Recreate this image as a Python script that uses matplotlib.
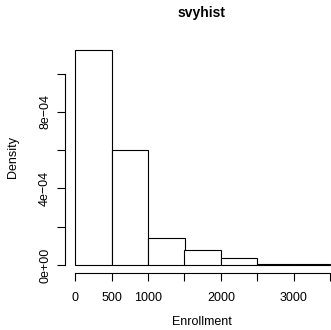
import matplotlib
matplotlib.use("Agg")
import matplotlib.pyplot as plt

# histogram bins (Enrollment) and densities
bin_edges = [0, 500, 1000, 1500, 2000, 2500, 3000, 3500]
densities = [1.122e-3, 6.01e-4, 1.40e-4, 7.7e-5, 3.5e-5, 4e-6, 4e-6]

x_ticks = [0, 500, 1000, 1500, 2000, 2500, 3000, 3500]
x_labels = ["0", "500", "1000", "", "2000", "", "3000", ""]
y_ticks = [0, 2e-4, 4e-4, 6e-4, 8e-4, 1e-3]
y_labels = ["0e+00", "", "4e\u221204", "", "8e\u221204", ""]

plt.rcParams["font.family"] = ["Liberation Sans", "DejaVu Sans"]

W, H = 331, 330
fig = plt.figure(figsize=(W / 100, H / 100), dpi=100)

# pixel mapping: x=0 at 75 px, 0.073 px per unit; y=0 at 265 px, 191300 px per unit
left_px, right_px = 65, 331
top_px, bottom_px = 40, 273
ax = fig.add_axes([left_px / W, 1 - bottom_px / H,
                   (right_px - left_px) / W, (bottom_px - top_px) / H])
ax.set_xlim((left_px - 75) / 0.073, (right_px - 75) / 0.073)
ax.set_ylim((265 - bottom_px) / 191300, (265 - top_px) / 191300)

widths = [b - a for a, b in zip(bin_edges[:-1], bin_edges[1:])]
ax.bar(bin_edges[:-1], densities, width=widths, align="edge",
       color="white", edgecolor="black", linewidth=0.8, clip_on=False)

for s in ["top", "right"]:
    ax.spines[s].set_visible(False)
ax.spines["left"].set_bounds(0, 1e-3)
ax.spines["bottom"].set_bounds(0, 3600)
ax.spines["left"].set_linewidth(0.8)
ax.spines["bottom"].set_linewidth(0.8)

ax.set_xticks(x_ticks)
ax.set_xticklabels(x_labels)
ax.set_yticks(y_ticks)
ax.set_yticklabels(y_labels, rotation=90, va="center")
ax.tick_params(axis="both", length=6, width=0.8, labelsize=9)
ax.tick_params(axis="x", pad=7.5)
ax.tick_params(axis="y", pad=4)

fig.text(202 / W, 1 - 13 / H, "svyhist", ha="center", va="center",
         fontsize=10, fontweight="bold")
fig.text(202 / W, 1 - 322 / H, "Enrollment", ha="center", va="center",
         fontsize=9)
fig.text(13 / W, 1 - 157 / H, "Density", ha="center", va="center",
         rotation=90, fontsize=9)

fig.savefig("out.png", dpi=100)
